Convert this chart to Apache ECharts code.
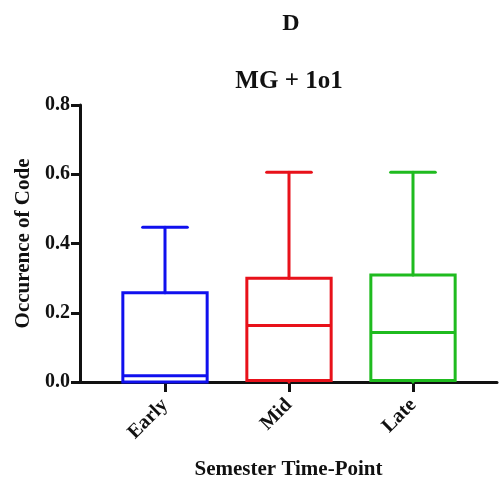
<!DOCTYPE html>
<html>
<head>
<meta charset="utf-8">
<script src="https://cdn.jsdelivr.net/npm/echarts@6/dist/echarts.min.js"></script>
<style>
html,body{margin:0;padding:0;background:#fff;}
#chart{width:499px;height:481px;}
</style>
</head>
<body>
<div id="chart"></div>
<script>
// Data
const categories = ['Early', 'Mid', 'Late'];
const minValues = [0, 0, 0];
const q1Values = [0, 0.004, 0.004];
const medianValues = [0.018, 0.163, 0.143];
const q3Values = [0.258, 0.300, 0.309];
const maxValues = [0.447, 0.606, 0.606];
const boxColors = ['#1010ee', '#e8111a', '#1fbb1f'];
const yTicks = [0, 0.2, 0.4, 0.6, 0.8];

const FONT = '"Liberation Serif", "Times New Roman", serif';

const boxData = categories.map((c, i) => [i, minValues[i], q1Values[i], medianValues[i], q3Values[i], maxValues[i]]);

const chart = echarts.init(document.getElementById('chart'), null, {renderer: 'canvas'});

function renderBox(params, api) {
  const idx = api.value(0);
  const vMin = api.value(1), vQ1 = api.value(2), vMed = api.value(3), vQ3 = api.value(4), vMax = api.value(5);
  const band = api.size([1, 0])[0];
  const bw = band * 0.68;
  const cw = band * 0.36;
  const cx = api.coord([idx, 0])[0];
  const yMin = api.coord([idx, vMin])[1];
  const yQ1 = api.coord([idx, vQ1])[1];
  const yMed = api.coord([idx, vMed])[1];
  const yQ3 = api.coord([idx, vQ3])[1];
  const yMax = api.coord([idx, vMax])[1];
  const color = boxColors[idx];
  const st = {stroke: color, lineWidth: 3, fill: null, lineCap: 'round'};
  return {
    type: 'group',
    children: [
      {type: 'line', shape: {x1: cx, y1: yQ3, x2: cx, y2: yMax}, style: st},
      {type: 'line', shape: {x1: cx - cw / 2, y1: yMax, x2: cx + cw / 2, y2: yMax}, style: st},
      {type: 'line', shape: {x1: cx, y1: yQ1, x2: cx, y2: yMin}, style: st},
      {type: 'rect', shape: {x: cx - bw / 2, y: yQ3, width: bw, height: yQ1 - yQ3}, style: {stroke: color, lineWidth: 3, fill: null}},
      {type: 'line', shape: {x1: cx - bw / 2, y1: yMed, x2: cx + bw / 2, y2: yMed}, style: {stroke: color, lineWidth: 3}}
    ]
  };
}

const option = {
  backgroundColor: '#ffffff',
  animation: false,
  title: [
    {text: 'D', left: 286, top: 7, textAlign: 'center',
     textStyle: {fontFamily: FONT, fontWeight: 'bold', fontSize: 24, color: '#111'}},
    {text: 'MG + 1o1', left: 284, top: 64, textAlign: 'center',
     textStyle: {fontFamily: FONT, fontWeight: 'bold', fontSize: 25, color: '#111'}}
  ],
  grid: [
    {left: 103, width: 372, top: 105, height: 277, containLabel: false, outerBoundsMode: 'none'},
    {left: 80, width: 417, top: 105, height: 277, containLabel: false, outerBoundsMode: 'none'}
  ],
  xAxis: [
    {
      type: 'category', gridIndex: 0, data: categories,
      axisLine: {show: false},
      axisTick: {show: true, alignWithLabel: true, length: 10, lineStyle: {color: '#111', width: 3}},
      axisLabel: {rotate: 45, margin: 20, fontFamily: FONT, fontWeight: 'bold', fontSize: 20, color: '#111'},
      splitLine: {show: false}
    },
    {
      type: 'value', gridIndex: 1, min: 0, max: 1,
      name: 'Semester Time-Point', nameLocation: 'middle', nameGap: 77,
      nameTextStyle: {fontFamily: FONT, fontWeight: 'bold', fontSize: 21, color: '#111'},
      axisLine: {show: true, lineStyle: {color: '#111', width: 3}},
      axisTick: {show: false}, axisLabel: {show: false}, splitLine: {show: false}
    }
  ],
  yAxis: [
    {type: 'value', gridIndex: 0, min: 0, max: 0.8, interval: 0.2, show: false},
    {
      type: 'value', gridIndex: 1, min: 0, max: 0.8, interval: 0.2,
      name: 'Occurence of Code', nameLocation: 'middle', nameGap: 44,
      nameTextStyle: {fontFamily: FONT, fontWeight: 'bold', fontSize: 21, color: '#111'},
      axisLine: {show: true, lineStyle: {color: '#111', width: 3}},
      axisTick: {show: true, length: 9, lineStyle: {color: '#111', width: 3}},
      axisLabel: {margin: 10, fontFamily: FONT, fontWeight: 'bold', fontSize: 20, color: '#111',
                  formatter: v => v.toFixed(1)},
      splitLine: {show: false}
    }
  ],
  series: [
    {
      type: 'custom', xAxisIndex: 0, yAxisIndex: 0,
      renderItem: renderBox,
      encode: {x: 0, y: [1, 2, 3, 4, 5]},
      data: boxData,
      z: 1
    }
  ]
};
chart.setOption(option);
</script>
</body>
</html>
